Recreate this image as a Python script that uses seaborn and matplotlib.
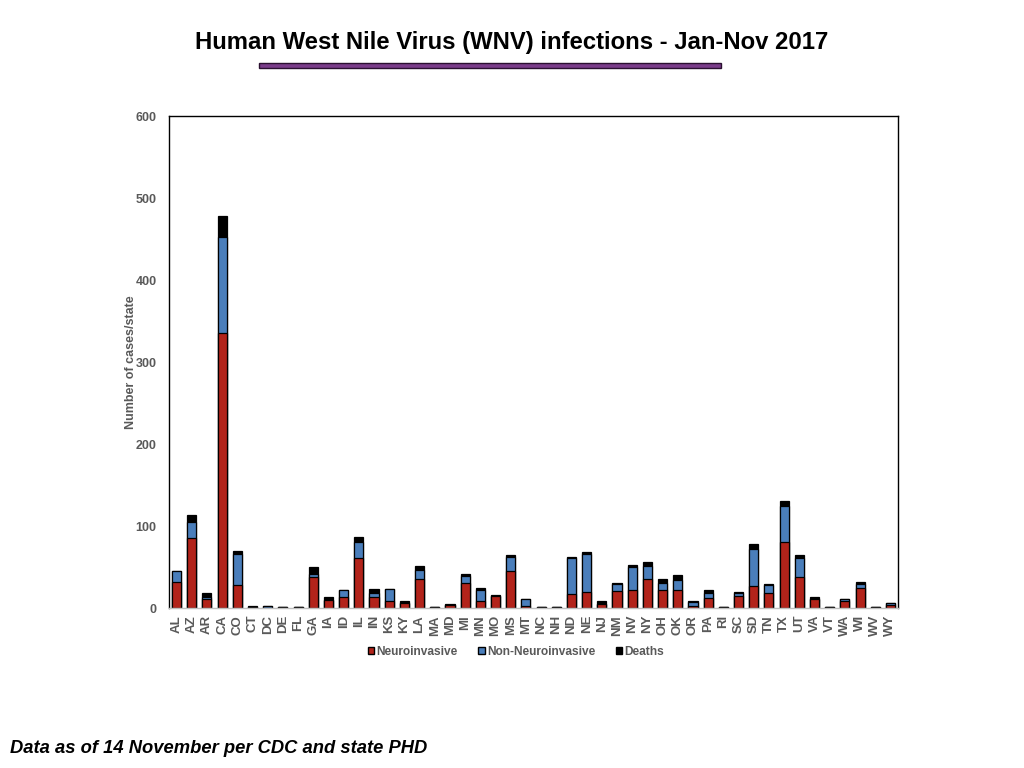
import pandas as pd
import matplotlib
matplotlib.use("Agg")
import matplotlib.pyplot as plt
from matplotlib.patches import Patch, Rectangle
import seaborn as sns

# Values (cases per state, Jan-Nov 2017)
states = ["AL", "AZ", "AR", "CA", "CO", "CT", "DC", "DE", "FL", "GA", "IA", "ID",
          "IL", "IN", "KS", "KY", "LA", "MA", "MD", "MI", "MN", "MO", "MS", "MT",
          "NC", "NH", "ND", "NE", "NJ", "NM", "NV", "NY", "OH", "OK", "OR", "PA",
          "RI", "SC", "SD", "TN", "TX", "UT", "VA", "VT", "WA", "WI", "WV", "WY"]
neuro = [32, 86, 11, 336, 28, 1, 0, 1, 1, 38, 10, 13, 61, 14, 9, 6, 36, 1, 4, 31,
         9, 15, 45, 3, 1, 1, 17, 19, 5, 21, 22, 36, 22, 22, 3, 12, 1, 15, 27, 18,
         80, 38, 11, 1, 9, 25, 1, 4]
non_neuro = [13, 19, 2, 116, 38, 0, 2, 0, 0, 4, 0, 9, 20, 4, 14, 0, 10, 0, 0, 8,
             13, 0, 17, 8, 0, 0, 44, 47, 0, 8, 28, 15, 9, 12, 4, 6, 0, 3, 45, 10,
             45, 23, 0, 0, 2, 4, 0, 2]
deaths = [0, 8, 5, 26, 4, 2, 0, 0, 0, 8, 4, 0, 6, 5, 0, 3, 5, 0, 1, 2,
          2, 1, 3, 0, 0, 0, 1, 2, 4, 2, 2, 5, 4, 6, 1, 4, 0, 1, 6, 1,
          5, 4, 2, 0, 0, 3, 0, 0]

df = pd.DataFrame({"state": states, "neuro": neuro, "non": non_neuro, "deaths": deaths})
df["neuro_non"] = df["neuro"] + df["non"]
df["total"] = df["neuro_non"] + df["deaths"]

RED = "#B2231A"
BLUE = "#4A7EBB"
GRAY = "#595959"

sns.set_style("white")
plt.rcParams["font.family"] = ["Liberation Sans", "DejaVu Sans"]

fig = plt.figure(figsize=(10.24, 7.68), dpi=100)
ax = fig.add_axes([0.165, 0.2083, 0.712, 0.6406])

# stacked look: draw totals first, then overlay the lower segments
bar_kw = dict(x="state", order=states, width=0.6, edgecolor="black",
              linewidth=0.9, errorbar=None, ax=ax)
sns.barplot(data=df, y="total", color="black", saturation=1, **bar_kw)
sns.barplot(data=df, y="neuro_non", color=BLUE, saturation=1, **bar_kw)
sns.barplot(data=df, y="neuro", color=RED, saturation=1, **bar_kw)

ax.set_ylim(0, 600)
ax.set_xlim(-0.5, len(states) - 0.5)
ax.set_yticks(range(0, 601, 100))
ax.set_xlabel("")
ax.set_ylabel("Number of cases/state", fontsize=9, fontweight="bold", color=GRAY, labelpad=-1)
ax.tick_params(axis="y", length=0, pad=9, labelsize=9, labelcolor=GRAY)
ax.tick_params(axis="x", length=0, pad=5, labelsize=9.5, labelcolor=GRAY, rotation=90)
for lbl in ax.get_xticklabels() + ax.get_yticklabels():
    lbl.set_fontweight("bold")

for side in ["left", "top", "right"]:
    ax.spines[side].set_color("black")
    ax.spines[side].set_linewidth(1.0)
ax.spines["bottom"].set_color("#BFBFBF")
ax.spines["bottom"].set_linewidth(1.0)

handles = [Patch(facecolor=RED, edgecolor="black", label="Neuroinvasive"),
           Patch(facecolor=BLUE, edgecolor="black", label="Non-Neuroinvasive"),
           Patch(facecolor="black", edgecolor="black", label="Deaths")]
leg = fig.legend(handles=handles, loc="center", bbox_to_anchor=(0.504, 0.151), ncol=3,
                 frameon=False, fontsize=8.6, handlelength=0.55, handleheight=0.55,
                 handletextpad=0.2, columnspacing=1.7)
for t in leg.get_texts():
    t.set_color(GRAY)
    t.set_fontweight("bold")

fig.text(0.5, 0.945, "Human West Nile Virus (WNV) infections - Jan-Nov 2017",
         ha="center", va="center", fontsize=17.2, fontweight="bold", color="black")
fig.patches.append(Rectangle((259 / 1024, 1 - 68 / 768), 462 / 1024, 5 / 768,
                             transform=fig.transFigure, facecolor="#7A3C8A",
                             edgecolor="#2A1030", linewidth=1.0))
fig.text(0.01, 0.026, "Data as of 14 November per CDC and state PHD",
         ha="left", va="center", fontsize=13.2, fontweight="bold", style="italic", color="black")

plt.savefig("out.png", dpi=100)
